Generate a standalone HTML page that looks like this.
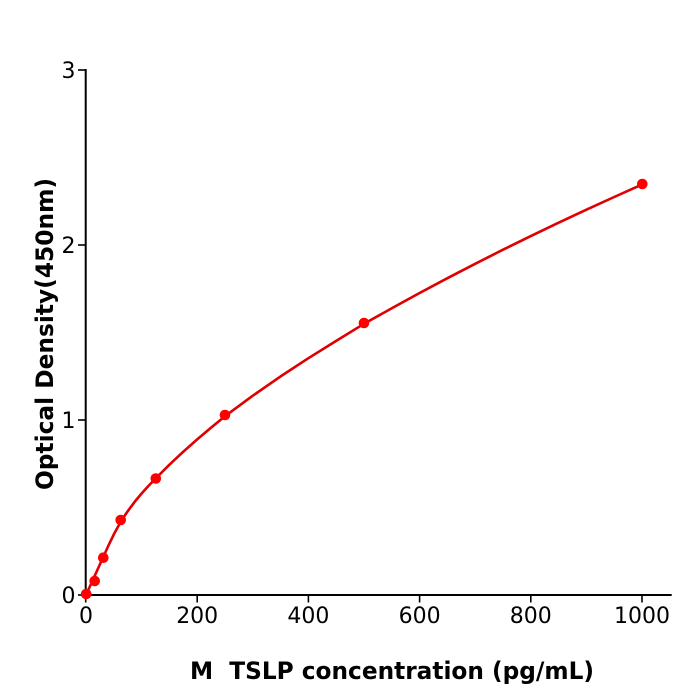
<!DOCTYPE html>
<html>
<head>
<meta charset="utf-8">
<style>
html,body{margin:0;padding:0;background:#fff;}
svg{display:block;}
text{font-family:"DejaVu Sans","Liberation Sans",sans-serif;fill:#000;}
</style>
</head>
<body>
<svg width="700" height="700" viewBox="0 0 700 700" xmlns="http://www.w3.org/2000/svg">
<rect width="700" height="700" fill="#fff"/>
<!-- axes -->
<line x1="85.7" y1="69" x2="85.7" y2="596" stroke="#000" stroke-width="2"/>
<line x1="84.7" y1="595" x2="671.7" y2="595" stroke="#000" stroke-width="2"/>
<!-- ticks -->
<g stroke="#000" stroke-width="1.6">
<line x1="78" y1="595" x2="85.7" y2="595"/>
<line x1="78" y1="420" x2="85.7" y2="420"/>
<line x1="78" y1="245" x2="85.7" y2="245"/>
<line x1="78" y1="70" x2="85.7" y2="70"/>
<line x1="85.7" y1="595" x2="85.7" y2="602.5"/>
<line x1="197.2" y1="595" x2="197.2" y2="602.5"/>
<line x1="308.4" y1="595" x2="308.4" y2="602.5"/>
<line x1="419.6" y1="595" x2="419.6" y2="602.5"/>
<line x1="530.8" y1="595" x2="530.8" y2="602.5"/>
<line x1="642" y1="595" x2="642" y2="602.5"/>
</g>
<g font-size="22" text-anchor="end">
<text x="75.5" y="603">0</text>
<text x="75.5" y="428">1</text>
<text x="75.5" y="253">2</text>
<text x="75.5" y="78">3</text>
</g>
<g font-size="22" text-anchor="middle">
<text x="86" y="623">0</text>
<text x="197.2" y="623">200</text>
<text x="308.4" y="623">400</text>
<text x="419.6" y="623">600</text>
<text x="530.8" y="623">800</text>
<text x="642" y="623">1000</text>
</g>
<!-- axis labels -->
<text x="190" y="679" font-size="24" font-weight="bold" xml:space="preserve" textLength="404" lengthAdjust="spacingAndGlyphs">M  TSLP concentration (pg/mL)</text>
<text transform="translate(53,334) rotate(-90)" font-size="24" font-weight="bold" text-anchor="middle" textLength="312" lengthAdjust="spacingAndGlyphs">Optical Density(450nm)</text>
<!-- curve -->
<polyline fill="none" stroke="#e00000" stroke-width="2.6" stroke-linejoin="round" stroke-linecap="round"
points="86,595 91.56,582.75 97.12,570.5 102.68,558.25 108.24,546 113.8,534.4 119.36,524.2 124.92,515.3 130.48,507.4 136.04,500.1 141.6,493.5 148.27,486.1 155.5,478.6 169.4,464.7 183.3,451.7 197.2,439.4 211.1,427.6 225,416.2 238.9,405.9 252.8,395.7 280.6,376.4 308.4,358.2 336.2,340.9 364,323.8 391.8,308.3 419.6,293 447.4,278.2 475.2,263.8 503,249.7 530.8,236.1 558.6,222.7 586.4,209.7 614.2,197 642,184.5"/>
<!-- points -->
<g fill="#ff0000">
<circle cx="86.2" cy="594" r="5.3"/>
<circle cx="94.7" cy="581" r="5.3"/>
<circle cx="103.3" cy="557.7" r="5.3"/>
<circle cx="120.7" cy="520" r="5.3"/>
<circle cx="155.8" cy="478.5" r="5.3"/>
<circle cx="225" cy="415" r="5.3"/>
<circle cx="364" cy="323" r="5.3"/>
<circle cx="642.3" cy="184" r="5.3"/>
</g>
</svg>
</body>
</html>
